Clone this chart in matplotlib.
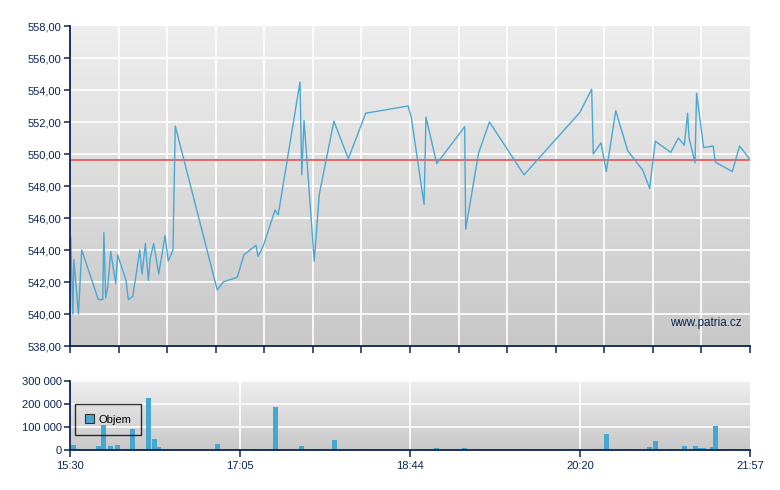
import numpy as np
import matplotlib
matplotlib.use("Agg")
import matplotlib.pyplot as plt
from matplotlib.colors import LinearSegmentedColormap
from matplotlib.patches import Patch

# ---- data (minutes since 15:30) ----
price_t = [0.4, 1.6, 2.2, 4.8, 6.7, 16.1, 18.6, 19.3, 20.3, 21.5, 23.2, 26.0, 27.1, 31.9,
           33.2, 35.7, 37.4, 39.7, 41.0, 42.9, 44.6, 45.7, 47.6, 50.5, 54.1, 55.9, 58.6,
           59.9, 83.8, 87.2, 95.2, 99.0, 105.9, 107.0, 110.0, 116.7, 118.5, 130.9, 131.9,
           133.2, 139.0, 141.9, 150.2, 158.4, 168.3, 192.4, 194.2, 201.5, 202.6, 208.7,
           224.6, 225.2, 232.5, 238.7, 258.4, 290.2, 296.9, 297.8, 302.2, 305.2, 310.6,
           317.4, 325.9, 329.9, 333.1, 341.9, 346.2, 349.6, 351.5, 352.3, 355.7, 356.6,
           360.6, 366.1, 367.2, 376.9, 381.1, 387.0]
price_v = [544.8, 540.0, 543.4, 540.0, 544.0, 540.9, 540.9, 545.1, 541.0, 541.7, 543.9,
           541.9, 543.7, 542.1, 540.9, 541.1, 542.3, 544.0, 542.5, 544.4, 542.1, 543.5,
           544.4, 542.5, 544.9, 543.3, 544.0, 551.75, 541.5, 542.0, 542.3, 543.7, 544.3,
           543.6, 544.25, 546.5, 546.2, 554.5, 548.7, 552.1, 543.3, 547.5, 552.05, 549.7,
           552.55, 553.0, 552.3, 546.85, 552.3, 549.4, 551.7, 545.3, 550.05, 552.0, 548.7,
           552.6, 554.05, 550.0, 550.7, 548.9, 552.7, 550.2, 549.0, 547.85, 550.8, 550.1,
           551.0, 550.55, 552.55, 551.0, 549.45, 553.8, 550.4, 550.5, 549.5, 548.9, 550.5,
           549.65]
ref_price = 549.65

vol_t = [1.9, 4.0, 16.5, 19.3, 23.0, 27.0, 33.0, 35.6, 38.7, 42.1, 44.7, 48.1, 50.6, 54.1,
         83.9, 95.3, 99.0, 105.6, 117.1, 119.5, 131.7, 139.1, 142.0, 150.5, 168.2, 208.6,
         224.5, 258.1, 290.5, 302.2, 305.3, 317.3, 326.7, 329.8, 333.2, 341.7, 349.7,
         356.0, 358.0, 360.5, 365.4, 367.4, 377.0]
vol_v = [22000, 5000, 16000, 108000, 17000, 22000, 3000, 91000, 4000, 3000, 227000, 48000,
         13000, 3000, 26000, 3000, 3000, 3000, 186000, 3000, 17000, 3000, 3000, 43000, 3000,
         8000, 8000, 3000, 3000, 3000, 70000, 3000, 3000, 12000, 39000, 3000, 16000, 16000,
         10000, 9000, 11000, 104000, 3000]

x_tick_labels = ["15:30", "17:05", "18:44", "20:20", "21:57"]
y_ticks_price = [538, 540, 542, 544, 546, 548, 550, 552, 554, 556, 558]
y_ticks_vol = [0, 100000, 200000, 300000]
y_labels_vol = ["0", "100 000", "200 000", "300 000"]

T_END = 387.0
NAVY = "#0b2456"
BLUE = "#4aa8d2"
BAR = "#46a6d0"

plt.rcParams['font.family'] = ['Liberation Sans', 'DejaVu Sans']

fig = plt.figure(figsize=(7.8, 4.9), dpi=100)
ax = fig.add_axes([70/780, 1-346/490, 680/780, 320/490])
axv = fig.add_axes([70/780, 1-450/490, 680/780, 69/490])

cmap = LinearSegmentedColormap.from_list("bg", ["#c8c8c8", "#eeeeee"])


def gradient(a):
    a.imshow(np.linspace(0, 1, 256).reshape(-1, 1), extent=[0, 1, 0, 1], origin="lower",
             transform=a.transAxes, aspect="auto", cmap=cmap, zorder=0, interpolation="bicubic")
    a.patch.set_visible(False)


major_x = np.linspace(0, T_END, 5)
minor_x = np.linspace(0, T_END, 15)

# ---- price axes ----
gradient(ax)
for xv in minor_x[1:-1]:
    ax.axvline(xv, color="white", lw=1.2, zorder=1)
for yv in y_ticks_price[1:-1]:
    ax.axhline(yv, color="white", lw=1.2, zorder=1)
ax.plot(price_t, price_v, color=BLUE, lw=1.0, zorder=3)
ax.axhline(ref_price, color="#e05555", lw=1.2, zorder=2)
ax.set_xlim(0, T_END)
ax.set_ylim(538, 558)
ax.set_yticks(y_ticks_price)
ax.set_yticklabels([f"{v:.2f}".replace(".", ",") for v in y_ticks_price])
ax.set_xticks(minor_x)
ax.set_xticklabels([])
ax.text(0.988, 0.072, "www.patria.cz", transform=ax.transAxes, ha="right", va="center",
        color=NAVY, fontsize=8.4, zorder=4)

# ---- volume axes ----
gradient(axv)
for xv in major_x[1:-1]:
    axv.axvline(xv, color="white", lw=1.2, zorder=1)
for yv in y_ticks_vol[1:]:
    axv.axhline(yv, color="white", lw=1.2, zorder=1)
axv.bar(vol_t, vol_v, width=2.85, color=BAR, zorder=3, align="center")
axv.set_xlim(0, T_END)
axv.set_ylim(0, 300000)
axv.set_yticks(y_ticks_vol)
axv.set_yticklabels(y_labels_vol)
axv.set_xticks(major_x)
axv.set_xticklabels(x_tick_labels)
leg = axv.legend(handles=[Patch(facecolor=BAR, edgecolor="#333333", lw=0.8, label="Objem")],
                 loc="upper left", bbox_to_anchor=(0.007, 0.66), frameon=True, fancybox=False,
                 handlelength=0.8, handleheight=0.8, handletextpad=0.4, borderpad=0.9,
                 fontsize=8, borderaxespad=0)
leg.get_frame().set_edgecolor("black")
leg.get_frame().set_facecolor("none")
leg.get_frame().set_linewidth(1.0)
leg.set_zorder(5)

for a in (ax, axv):
    for s in ("top", "right"):
        a.spines[s].set_visible(False)
    for s in ("left", "bottom"):
        a.spines[s].set_color(NAVY)
        a.spines[s].set_linewidth(1.3)
        a.spines[s].set_zorder(6)
    a.tick_params(axis="both", colors=NAVY, labelcolor=NAVY, labelsize=8, width=1.1,
                  length=4, direction="out", pad=2)
    a.tick_params(axis="x", length=5, pad=3)

fig.savefig("out.png", dpi=100)
